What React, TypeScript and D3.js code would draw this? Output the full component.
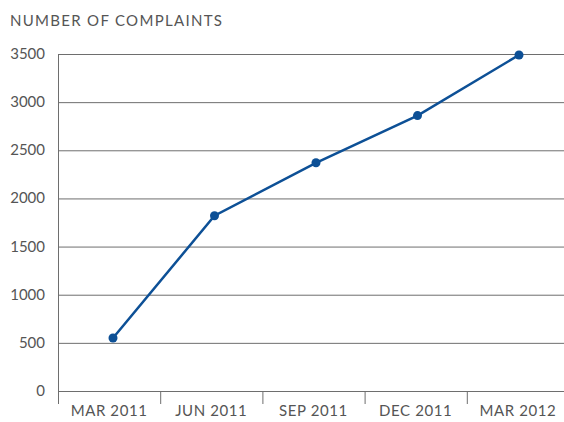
import React from "react";
import * as d3 from "d3";

const categories = ["MAR 2011", "JUN 2011", "SEP 2011", "DEC 2011", "MAR 2012"];
const complaints = [550, 1820, 2370, 2860, 3490];
const yTicks = [0, 500, 1000, 1500, 2000, 2500, 3000, 3500];
const title = "NUMBER OF COMPLAINTS";

const W = 564;
const H = 422;
const FONT = "Lato, 'Open Sans', sans-serif";
const TEXT = "#555";
const GRID = "#6e6e6e";
const LINE = "#0d5096";

export default function App() {
  const x = d3.scaleBand<string>().domain(categories).range([58, 569]);
  const xp = d3.scalePoint<string>().domain(categories).range([113, 519]);
  const y = d3.scaleLinear().domain([0, 3500]).range([391, 54]);
  const line = d3
    .line<number>()
    .x((_, i) => xp(categories[i]) as number)
    .y((d) => y(d));

  const edges = categories.map((c) => x(c) as number);

  return (
    <svg
      width={W}
      height={H}
      style={{ position: "absolute", left: 0, top: 0, background: "#fff" }}
      fontFamily={FONT}
    >
      <text x={10} y={26} fontSize={15} fill={TEXT} letterSpacing={1.3}>
        {title}
      </text>
      {yTicks.map((t) => (
        <g key={t}>
          <line x1={58} x2={W} y1={y(t) + 0.5} y2={y(t) + 0.5} stroke={GRID} strokeWidth={1} />
          <text
            x={45}
            y={y(t) + 5}
            textAnchor="end"
            fontSize={15}
            fill={TEXT}
          >
            {t}
          </text>
        </g>
      ))}
      <line x1={58.5} x2={58.5} y1={54} y2={404} stroke={GRID} strokeWidth={1} />
      {edges.slice(1).map((e, i) => (
        <line key={i} x1={e + 0.5} x2={e + 0.5} y1={391} y2={404} stroke={GRID} strokeWidth={1} />
      ))}
      {categories.map((c) => (
        <text
          key={c}
          x={(x(c) as number) + x.bandwidth() / 2}
          y={416}
          textAnchor="middle"
          fontSize={15}
          fill={TEXT}
          letterSpacing={0.6}
        >
          {c}
        </text>
      ))}
      <path d={line(complaints) as string} fill="none" stroke={LINE} strokeWidth={2.5} />
      {complaints.map((v, i) => (
        <circle key={i} cx={xp(categories[i]) as number} cy={y(v)} r={4.5} fill={LINE} />
      ))}
    </svg>
  );
}
